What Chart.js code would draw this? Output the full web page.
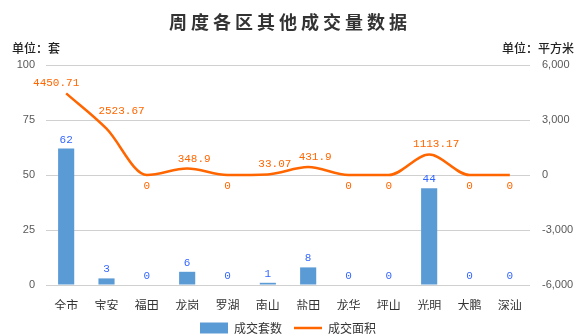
<!DOCTYPE html>
<html>
<head>
<meta charset="utf-8">
<script src="https://cdn.jsdelivr.net/npm/chart.js@4.4.0/dist/chart.umd.min.js"></script>
<style>
  html, body { margin: 0; padding: 0; background: #fff; }
  #wrap { width: 576px; height: 336px; }
</style>
</head>
<body>
<div id="wrap"><canvas id="chart"></canvas></div>
<script>
const districts = ["全市", "宝安", "福田", "龙岗", "罗湖", "南山", "盐田", "龙华", "坪山", "光明", "大鹏", "深汕"];
const unitCounts = [62, 3, 0, 6, 0, 1, 8, 0, 0, 44, 0, 0];
const areaValues = [4450.71, 2523.67, 0, 348.9, 0, 33.07, 431.9, 0, 0, 1113.17, 0, 0];
const leftTicks = [0, 25, 50, 75, 100];
const rightTicks = [-6000, -3000, 0, 3000, 6000];

const cjk = '"Noto Sans CJK SC", sans-serif';

// title + unit captions
const headerPlugin = {
  id: "header",
  afterDraw(chart) {
    const ctx = chart.ctx;
    ctx.save();
    ctx.fillStyle = "#333";
    ctx.textBaseline = "middle";
    ctx.font = "bold 18px " + cjk;
    ctx.letterSpacing = "4px";
    ctx.textAlign = "center";
    ctx.fillText("周度各区其他成交量数据", 290, 22);
    ctx.letterSpacing = "0px";
    ctx.fillStyle = "#222";
    ctx.font = "500 12px " + cjk;
    ctx.textAlign = "left";
    ctx.fillText("单位：套", 12, 48);
    ctx.textAlign = "right";
    ctx.fillText("单位：平方米", 574, 48);
    ctx.restore();
  },
};

// value labels on bars and line
const labelPlugin = {
  id: "valueLabels",
  afterDatasetsDraw(chart) {
    const ctx = chart.ctx;
    ctx.save();
    ctx.font = '11px "Liberation Mono", monospace';
    ctx.textAlign = "center";
    ctx.textBaseline = "middle";
    chart.data.datasets.forEach((ds, i) => {
      const meta = chart.getDatasetMeta(i);
      meta.data.forEach((el, j) => {
        const v = ds.data[j];
        if (ds.type === "line") {
          ctx.fillStyle = "#FF6600";
          if (v <= 0) {
            ctx.fillText(String(v), el.x, el.y + 11);
          } else if (j === 0) {
            ctx.fillText(String(v), el.x - 10, el.y - 10);
          } else if (ds.data[j - 1] > v) {
            // keep clear of a falling line
            ctx.fillText(String(v), el.x + 15, el.y - 18);
          } else {
            ctx.fillText(String(v), el.x + 7, el.y - 10);
          }
        } else {
          ctx.fillStyle = "#3366FF";
          ctx.fillText(String(v), el.x, el.y - 9);
        }
      });
    });
    ctx.restore();
  },
};

new Chart(document.getElementById("chart"), {
  data: {
    labels: districts,
    datasets: [
      {
        type: "bar",
        label: "成交套数",
        data: unitCounts,
        backgroundColor: "#5B9BD5",
        borderWidth: 0,
        barPercentage: 0.4,
        categoryPercentage: 1,
        yAxisID: "y",
        order: 1,
        pointStyle: "rect",
      },
      {
        type: "line",
        label: "成交面积",
        data: areaValues,
        borderColor: "#FF6600",
        backgroundColor: "#FF6600",
        borderWidth: 2.5,
        pointRadius: 0,
        cubicInterpolationMode: "monotone",
        yAxisID: "y1",
        order: 0,
        pointStyle: "line",
      },
    ],
  },
  options: {
    responsive: true,
    maintainAspectRatio: false,
    animation: false,
    layout: { padding: { top: 65, left: 0, right: 0, bottom: 2 } },
    plugins: {
      title: { display: false },
      tooltip: { enabled: false },
      legend: {
        position: "bottom",
        maxHeight: 24,
        labels: {
          usePointStyle: true,
          pointStyleWidth: 28,
          boxHeight: 11,
          padding: 12,
          color: "#333",
          font: { family: cjk, size: 12 },
          sort: (a, b) => a.datasetIndex - b.datasetIndex,
        },
      },
    },
    scales: {
      x: {
        grid: { display: false },
        border: { display: false },
        ticks: { color: "#333", padding: 5, font: { family: cjk, size: 12 } },
        afterFit(scale) { scale.height = 25; },
      },
      y: {
        position: "left",
        min: leftTicks[0],
        max: leftTicks[leftTicks.length - 1],
        ticks: {
          stepSize: leftTicks[1] - leftTicks[0],
          color: "#595959",
          padding: 11,
          font: { family: '"Liberation Sans", Arial, sans-serif', size: 11 },
        },
        grid: { color: "#D0D0D0", drawTicks: false },
        border: { display: false },
        afterFit(scale) { scale.width = 46; },
      },
      y1: {
        position: "right",
        min: rightTicks[0],
        max: rightTicks[rightTicks.length - 1],
        ticks: {
          stepSize: rightTicks[1] - rightTicks[0],
          color: "#595959",
          padding: 12,
          font: { family: '"Liberation Sans", Arial, sans-serif', size: 11 },
        },
        grid: { display: false, drawTicks: false },
        border: { display: false },
        afterFit(scale) { scale.width = 46; },
      },
    },
  },
  plugins: [headerPlugin, labelPlugin],
});
</script>
</body>
</html>
